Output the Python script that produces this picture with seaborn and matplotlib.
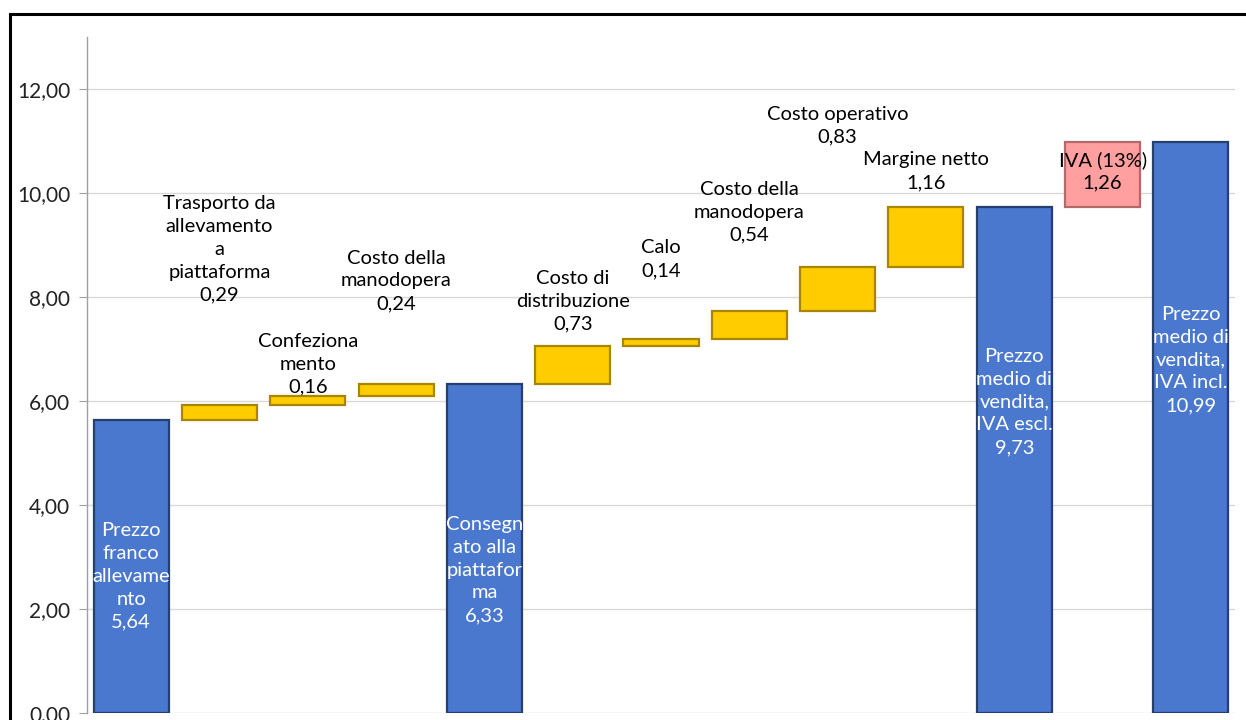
import matplotlib.pyplot as plt
import matplotlib.patches as mpatches
import numpy as np
import seaborn as sns

# Waterfall steps (euro/kg)
steps = ['franco', 'trasporto', 'confezionamento', 'manodopera_1', 'consegnato',
         'distribuzione', 'calo', 'manodopera_2', 'operativo', 'margine',
         'prezzo_escl', 'iva', 'prezzo_incl']
values = [5.64, 0.29, 0.16, 0.24, 6.33, 0.73, 0.14, 0.54, 0.83, 1.16, 9.73, 1.26, 10.99]
kinds = ['total', 'step', 'step', 'step', 'total', 'step', 'step', 'step', 'step', 'step',
         'total', 'tax', 'total']
labels = ['Prezzo\nfranco\nallevame\nnto\n5,64',
          'Trasporto da\nallevamento\na\npiattaforma\n0,29',
          'Confeziona\nmento\n0,16',
          'Costo della\nmanodopera\n0,24',
          'Consegn\nato alla\npiattafor\nma\n6,33',
          'Costo di\ndistribuzione\n0,73',
          'Calo\n0,14',
          'Costo della\nmanodopera\n0,54',
          'Costo operativo\n0,83',
          'Margine netto\n1,16',
          'Prezzo\nmedio di\nvendita,\nIVA escl.\n9,73',
          'IVA (13%)\n1,26',
          'Prezzo\nmedio di\nvendita,\nIVA incl.\n10,99']
# vertical centre of each data label (data units)
label_y = [2.63, 8.92, 6.71, 8.31, 2.75, 7.92, 8.73, 9.63, 11.29, 10.42, 5.98, 10.42, 6.79]

fill = {'total': '#4a78cf', 'step': '#ffcc00', 'tax': '#ff9f9f'}
edge = {'total': '#253f6e', 'step': '#a88600', 'tax': '#b06a6a'}
text_col = {'total': 'white', 'step': 'black', 'tax': 'black'}

# bottoms of the floating bars
bottoms = []
running = 0.0
for v, k in zip(values, kinds):
    if k == 'total':
        bottoms.append(0.0)
        running = v
    else:
        bottoms.append(running)
        running += v

sns.set_style('white')
plt.rcParams['font.family'] = ['Lato', 'DejaVu Sans']

fig = plt.figure(figsize=(12.46, 7.2), dpi=100)
ax = fig.add_axes([0.0698, 0.0097, 0.9214, 0.9389])

sns.barplot(x=steps, y=values, hue=steps, palette=[fill[k] for k in kinds],
            legend=False, width=0.85, saturation=1, ax=ax, zorder=3)

for patch, b, v, k in zip(ax.patches, bottoms, values, kinds):
    patch.set_y(b)
    patch.set_height(v)
    patch.set_edgecolor(edge[k])
    patch.set_linewidth(1.6)

for i, (lab, y, k) in enumerate(zip(labels, label_y, kinds)):
    ax.text(i, y, lab, ha='center', va='center', multialignment='center',
            fontsize=14.5, color=text_col[k], linespacing=1.42, zorder=5)

ax.set_ylim(0, 13)
ax.set_xlim(-0.5, 12.5)
ax.set_yticks(np.arange(0, 13, 2))
ax.set_yticklabels([f'{t:.2f}'.replace('.', ',') for t in np.arange(0, 13, 2)],
                   fontsize=15, color='#222222')
ax.set_xticks([])
ax.set_xlabel('')
ax.set_ylabel('')
ax.grid(axis='y', color='#d9d9d9', linewidth=1, zorder=0)
ax.set_axisbelow(True)
ax.tick_params(axis='y', length=6, color='#a0a0a0', pad=6, left=True)
for s in ['top', 'right', 'bottom']:
    ax.spines[s].set_visible(False)
ax.spines['left'].set_color('#a0a0a0')
ax.spines['left'].set_linewidth(1)

# outer chart frame
fig.patches.append(mpatches.Rectangle((10 / 1246, -0.05), 1.2, 0.05 + (720 - 14) / 720,
                                      transform=fig.transFigure, fill=False,
                                      edgecolor='black', linewidth=2.2, zorder=10))

fig.savefig('out.png', dpi=100)
